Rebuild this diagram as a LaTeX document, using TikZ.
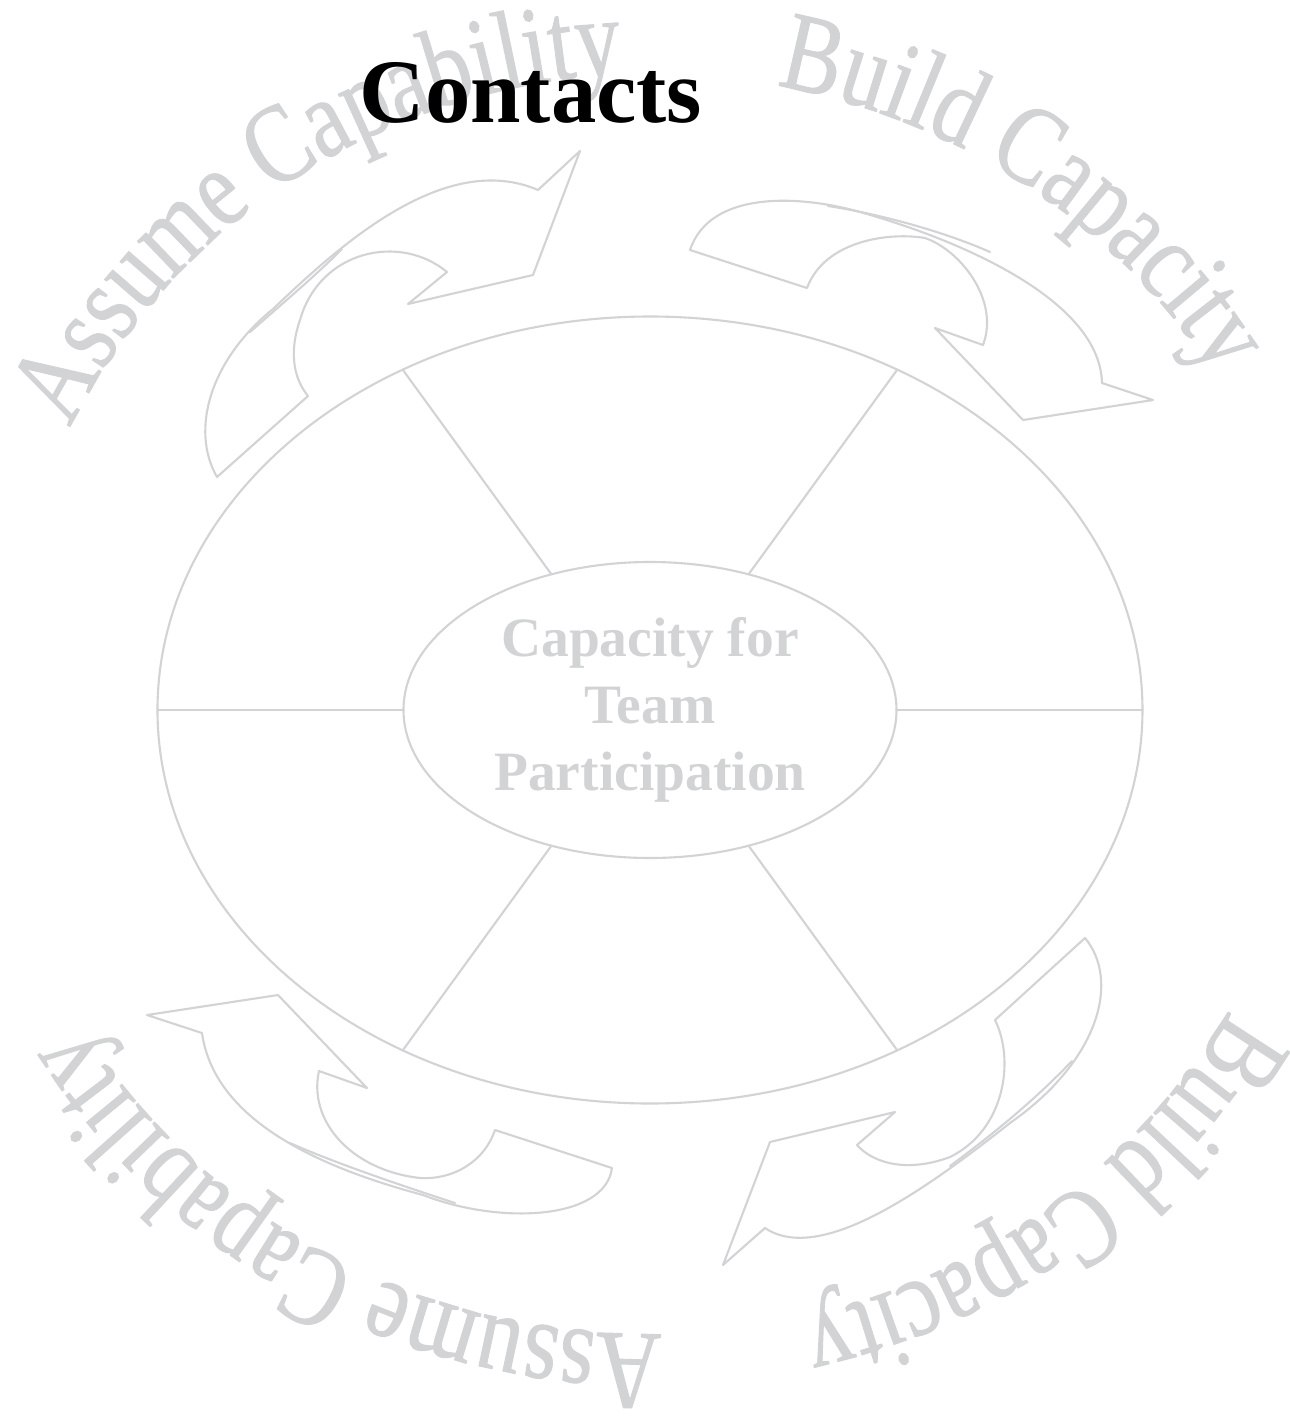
\documentclass[tikz,border=0pt]{standalone}
\usepackage{fontspec}
\setmainfont{Liberation Serif}
\newfontfamily\arcfont[FakeStretch=0.8, FakeBold=0.8]{Liberation Serif}
\usetikzlibrary{shapes.geometric,decorations.text,calc}

\definecolor{ringgray}{RGB}{209,211,212}
\newcommand\arctext{\arcfont\fontsize{32}{38}\selectfont}

\begin{document}
\begin{tikzpicture}[
  line cap=round, line join=round,
  ringline/.style={draw=ringgray, line width=0.6pt},
  ringoval/.style={ellipse, ringline, inner sep=0pt, outer sep=0pt},
  hubtext/.style={font=\bfseries\fontsize{15.8}{19.1}\selectfont, text=ringgray, align=center},
  arcword/.style={decorate, decoration={text along path, text color=ringgray, text={|\arctext|#1}}},
  bandline/.style={ringline}
]
\useasboundingbox (-6.5,-7.06) rectangle (6.4,7.1);

% =========================================================================
% Ring, hub and spokes
% =========================================================================
\node[ringoval, minimum width=9.85cm, minimum height=7.87cm] (ring) at (0,0) {};
\node[ringoval, minimum width=4.93cm, minimum height=2.96cm, hubtext] (hub) at (0,0)
  {Capacity for\\Team\\Participation};

\foreach \a in {0,54,126,180,234,306}
  \draw[ringline] (hub.\a) -- (ring.\a);

% =========================================================================
% Curved labels (clockwise on an oval, tops outward)
% =========================================================================
\coordinate (hubc) at (0,0.06);
\path[arcword={Assume Capability}] ($(hubc)+(154:6.45 and 6.3)$)
  arc[start angle=154, end angle=80, x radius=6.45, y radius=6.3];
\path[arcword={Build Capacity}] ($(hubc)+(79:6.62 and 6.3)$)
  arc[start angle=79, end angle=15, x radius=6.62, y radius=6.3];
\path[arcword={Build Capacity}] ($(hubc)+(-29:6.62 and 6.3)$)
  arc[start angle=-29, end angle=-95, x radius=6.62, y radius=6.3];
\path[arcword={Assume Capability}] ($(hubc)+(-89:6.62 and 6.3)$)
  arc[start angle=-89, end angle=-170, x radius=6.62, y radius=6.3];

% =========================================================================
% Curved arrows (traced in px, origin top left)
% =========================================================================
\begin{scope}[shift={(-6.5,7.1)}, x=0.1mm, y=-0.1mm]
  % top left
  \draw[bandline] (217,477) .. controls (190,430) and (210,360) .. (273,309)
    .. controls (340,245) and (445,150) .. (538,190) -- (580,151) -- (533,275) -- (408,304) -- (447,272)
    .. controls (400,233) and (320,250) .. (300,320) .. controls (288,355) and (295,380) .. (308,396) -- cycle;
  \draw[bandline] (250,332) .. controls (283,303) and (313,278) .. (342,249);

  % top right
  \draw[bandline] (690,250) .. controls (710,190) and (800,195) .. (860,212)
    .. controls (960,240) and (1100,300) .. (1102,383) -- (1153,400) -- (1023,420) -- (935,328) -- (983,345)
    .. controls (1000,300) and (960,250) .. (925,238) .. controls (890,232) and (825,240) .. (807,288) -- cycle;
  \draw[bandline] (828,206) .. controls (880,214) and (945,232) .. (990,252);

  % bottom right
  \draw[bandline] (1085,938) .. controls (1120,980) and (1100,1060) .. (1010,1123)
    .. controls (925,1190) and (820,1265) .. (765,1228) -- (723,1265) -- (770,1142) -- (895,1112) -- (857,1145)
    .. controls (875,1165) and (910,1172) .. (950,1157) .. controls (1005,1130) and (1015,1060) .. (995,1020) -- cycle;
  \draw[bandline] (950,1166) .. controls (985,1140) and (1030,1105) .. (1072,1061);

  % bottom left
  \draw[bandline] (612,1168) .. controls (605,1220) and (500,1225) .. (423,1195)
    .. controls (330,1170) and (215,1125) .. (202,1033) -- (147,1015) -- (278,995) -- (367,1088) -- (319,1071)
    .. controls (308,1120) and (350,1170) .. (420,1178) .. controls (455,1180) and (485,1160) .. (495,1130) -- cycle;
  \draw[bandline] (290,1143) .. controls (335,1163) and (400,1185) .. (455,1203);
\end{scope}

% Title
\node[font=\bfseries\fontsize{25.8}{30}\selectfont, anchor=base] (title) at (-1.19,5.88) {Contacts};

\end{tikzpicture}
\end{document}
